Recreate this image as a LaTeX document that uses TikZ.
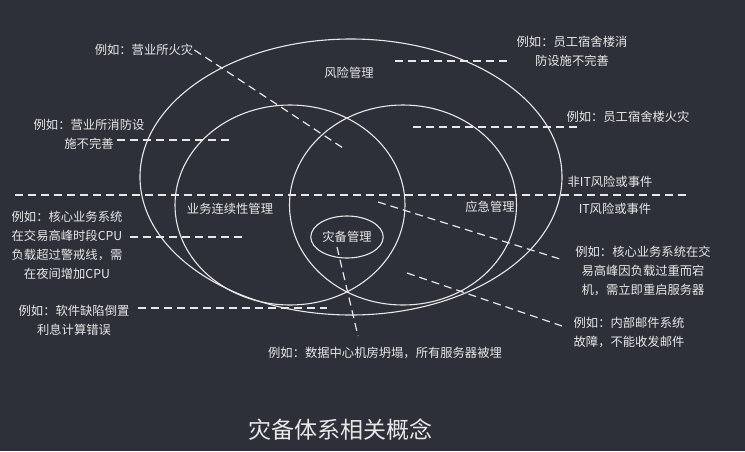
\documentclass[tikz,border=0pt]{standalone}
\usepackage{fontspec}
\setmainfont{Noto Sans CJK SC}
\usepackage{xcolor}
\usetikzlibrary{shapes.geometric,positioning}

\definecolor{bgdark}{RGB}{45,48,56}
\definecolor{fgwhite}{RGB}{232,232,232}

\begin{document}
\begin{tikzpicture}[
    x=1pt, y=-1pt,
    lbl/.style={text=fgwhite, font=\fontsize{12.3}{19}\selectfont, align=center, inner sep=1pt},
    ring/.style={ellipse, draw=fgwhite, line width=1.1pt, inner sep=0pt},
    guide/.style={draw=fgwhite, line width=1.2pt, dash pattern=on 8pt off 5pt}
]

% Background
\fill[bgdark] (0,0) rectangle (745,451);

% Rings
\node[ring, minimum width=422pt, minimum height=276pt] (riskring) at (351,177) {};
\node[ring, minimum width=230pt, minimum height=200pt] (bcring) at (290,205) {};
\node[ring, minimum width=227pt, minimum height=200pt] (emring) at (403,205) {};
\node[ring, lbl, minimum width=70pt, minimum height=42pt] (drring) at (347,237) {灾备管理};

% Ring labels
\node[lbl] (risk) at (349,73) {风险管理};
\node[lbl] (bc) at (230,209) {业务连续性管理};
\node[lbl] (em) at (490,207) {应急管理};
\node[lbl] (nonit) at (610,182) {非IT风险或事件};
\node[lbl] (it) at (615,209) {IT风险或事件};

% Examples, left
\node[lbl] (fire) at (144,50) {例如：营业所火灾};
\node[lbl] (firefac) at (89,134) {例如：营业所消防设\\施不完善};
\node[lbl] (cpu) at (67,245) {例如：核心业务系统\\在交易高峰时段CPU\\负载超过警戒线，需\\在夜间增加CPU};
\node[lbl] (bug) at (74,320) {例如：软件缺陷倒置\\利息计算错误};

% Examples, right
\node[lbl] (dormfac) at (572,51) {例如：员工宿舍楼消\\防设施不完善};
\node[lbl] (dormfire) at (628,117) {例如：员工宿舍楼火灾};
\node[lbl] (crash) at (643,271) {例如：核心业务系统在交\\易高峰因负载过重而宕\\机，需立即重启服务器};
\node[lbl] (mail) at (629,332) {例如：内部邮件系统\\故障，不能收发邮件};

% Example, bottom
\node[lbl] (dc) at (385,353) {例如：数据中心机房坍塌，所有服务器被埋};

% Title
\node[lbl, font=\fontsize{23}{28}\selectfont] (title) at (340,430) {灾备体系相关概念};

% Line ends
\coordinate (firein) at (343,148);
\coordinate (firefacout) at (117,140);
\coordinate (firefacin) at (233,140);
\coordinate (dormfacin) at (395,61);
\coordinate (dormfacout) at (510,61);
\coordinate (dormfirein) at (413,127);
\coordinate (dormfireout) at (578,127);
\coordinate (itleft) at (15,195);
\coordinate (itright) at (690,195);
\coordinate (cpuout) at (130,237);
\coordinate (cpuin) at (245,237);
\coordinate (bugout) at (138,308);
\coordinate (bugin) at (327,308);
\coordinate (dcin) at (337,247);
\coordinate (dcout) at (358,336);
\coordinate (crashin) at (378,202);
\coordinate (crashout) at (560,259);
\coordinate (mailin) at (407,273);
\coordinate (mailout) at (562,326);

% Dashed guides
\draw[guide] (fire.east) -- (firein);
\draw[guide] (firefacout) -- (firefacin);
\draw[guide] (dormfacin) -- (dormfacout);
\draw[guide] (dormfirein) -- (dormfireout);
\draw[guide] (itleft) -- (itright);
\draw[guide] (cpuout) -- (cpuin);
\draw[guide] (bugout) -- (bugin);
\draw[guide] (dcin) -- (dcout);
\draw[guide] (crashin) -- (crashout);
\draw[guide] (mailin) -- (mailout);

\end{tikzpicture}
\end{document}
